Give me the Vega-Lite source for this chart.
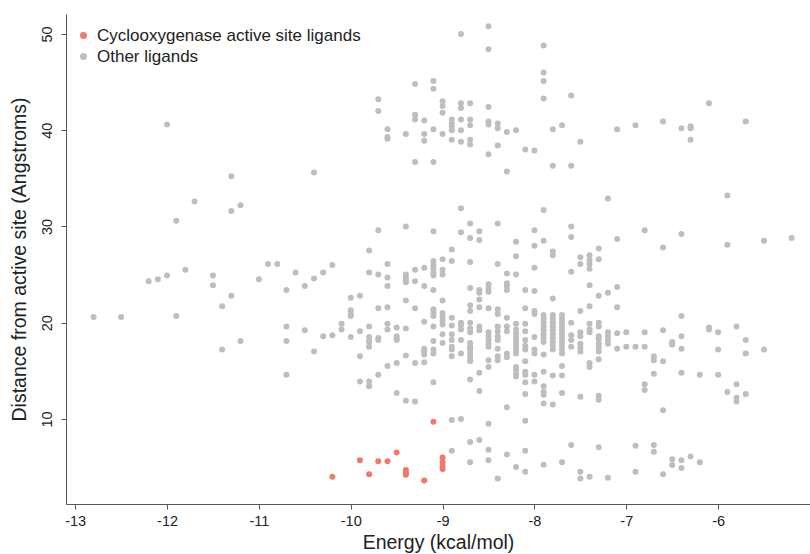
{
"$schema": "https://vega.github.io/schema/vega-lite/v6.json",
"autosize": {"type": "none"},
"padding": {"left": 66, "top": 14, "right": 0, "bottom": 50},
"width": 744,
"height": 490,
"config": {"view": {"stroke": null}, "font": "Liberation Sans"},
"datasets": {
"other": [
{"e":-12.8,"d":20.6},{"e":-12.5,"d":20.6},{"e":-12.2,"d":24.3},{"e":-12.1,"d":24.5},{"e":-12.0,"d":40.6},{"e":-12.0,"d":24.9},
{"e":-11.9,"d":30.6},{"e":-11.9,"d":20.7},{"e":-11.8,"d":25.5},{"e":-11.7,"d":32.6},{"e":-11.5,"d":24.9},{"e":-11.5,"d":23.9},
{"e":-11.4,"d":21.7},{"e":-11.4,"d":17.2},{"e":-11.3,"d":35.2},{"e":-11.3,"d":31.6},{"e":-11.3,"d":22.8},{"e":-11.2,"d":32.2},{"e":-11.2,"d":18.1},
{"e":-11.0,"d":24.5},{"e":-10.9,"d":26.1},{"e":-10.8,"d":26.1},{"e":-10.7,"d":23.4},{"e":-10.7,"d":19.6},{"e":-10.7,"d":18.1},{"e":-10.7,"d":14.6},
{"e":-10.6,"d":25.2},{"e":-10.5,"d":23.8},{"e":-10.5,"d":19.2},{"e":-10.4,"d":35.6},{"e":-10.4,"d":24.6},{"e":-10.4,"d":17.0},
{"e":-10.3,"d":25.2},{"e":-10.3,"d":18.6},{"e":-10.2,"d":26.0},{"e":-10.2,"d":18.7},{"e":-10.1,"d":19.9},{"e":-10.1,"d":19.3},
{"e":-10.0,"d":22.6},{"e":-10.0,"d":21.3},{"e":-10.0,"d":20.9},{"e":-10.0,"d":20.7},{"e":-10.0,"d":18.5},
{"e":-9.9,"d":22.8},{"e":-9.9,"d":19.1},{"e":-9.9,"d":16.5},{"e":-9.9,"d":13.9},
{"e":-9.8,"d":27.5},{"e":-9.8,"d":25.2},{"e":-9.8,"d":19.6},{"e":-9.8,"d":18.5},{"e":-9.8,"d":18.1},{"e":-9.8,"d":18.0},{"e":-9.8,"d":17.5},{"e":-9.8,"d":13.9},{"e":-9.8,"d":13.4},
{"e":-9.7,"d":43.2},{"e":-9.7,"d":42.0},{"e":-9.7,"d":29.6},{"e":-9.7,"d":25.0},{"e":-9.7,"d":21.5},{"e":-9.7,"d":18.4},{"e":-9.7,"d":18.2},{"e":-9.7,"d":14.6},
{"e":-9.6,"d":40.1},{"e":-9.6,"d":39.3},{"e":-9.6,"d":39.1},{"e":-9.6,"d":26.1},{"e":-9.6,"d":24.7},{"e":-9.6,"d":23.8},{"e":-9.6,"d":21.6},{"e":-9.6,"d":19.9},{"e":-9.6,"d":19.3},{"e":-9.6,"d":15.5},
{"e":-9.5,"d":19.5},{"e":-9.5,"d":18.6},{"e":-9.5,"d":18.3},{"e":-9.5,"d":18.2},{"e":-9.5,"d":15.8},{"e":-9.5,"d":12.7},
{"e":-9.4,"d":39.6},{"e":-9.4,"d":30.0},{"e":-9.4,"d":25.0},{"e":-9.4,"d":24.7},{"e":-9.4,"d":24.4},{"e":-9.4,"d":24.2},{"e":-9.4,"d":22.3},{"e":-9.4,"d":19.4},{"e":-9.4,"d":16.6},{"e":-9.4,"d":11.9},
{"e":-9.3,"d":44.8},{"e":-9.3,"d":41.6},{"e":-9.3,"d":41.1},{"e":-9.3,"d":36.7},{"e":-9.3,"d":25.5},{"e":-9.3,"d":24.3},{"e":-9.3,"d":21.5},{"e":-9.3,"d":15.8},{"e":-9.3,"d":11.8},
{"e":-9.2,"d":41.0},{"e":-9.2,"d":39.6},{"e":-9.2,"d":38.9},{"e":-9.2,"d":25.7},{"e":-9.2,"d":23.8},{"e":-9.2,"d":20.1},{"e":-9.2,"d":17.3},{"e":-9.2,"d":17.0},{"e":-9.2,"d":16.7},{"e":-9.2,"d":15.9},
{"e":-9.1,"d":45.1},{"e":-9.1,"d":44.3},{"e":-9.1,"d":40.1},{"e":-9.1,"d":36.7},{"e":-9.1,"d":29.5},{"e":-9.1,"d":26.4},{"e":-9.1,"d":26.0},{"e":-9.1,"d":25.6},{"e":-9.1,"d":25.2},{"e":-9.1,"d":24.9},{"e":-9.1,"d":23.4},{"e":-9.1,"d":21.4},{"e":-9.1,"d":21.1},{"e":-9.1,"d":20.7},{"e":-9.1,"d":19.6},{"e":-9.1,"d":18.1},{"e":-9.1,"d":17.2},{"e":-9.1,"d":16.8},{"e":-9.1,"d":13.8},
{"e":-9.0,"d":43.0},{"e":-9.0,"d":42.5},{"e":-9.0,"d":41.8},{"e":-9.0,"d":39.6},{"e":-9.0,"d":26.6},{"e":-9.0,"d":25.5},{"e":-9.0,"d":25.0},{"e":-9.0,"d":22.3},{"e":-9.0,"d":21.0},{"e":-9.0,"d":20.6},{"e":-9.0,"d":20.2},{"e":-9.0,"d":19.8},{"e":-9.0,"d":18.8},{"e":-9.0,"d":17.9},
{"e":-8.9,"d":41.1},{"e":-8.9,"d":40.7},{"e":-8.9,"d":40.4},{"e":-8.9,"d":40.0},{"e":-8.9,"d":39.0},{"e":-8.9,"d":27.6},{"e":-8.9,"d":26.4},{"e":-8.9,"d":20.5},{"e":-8.9,"d":19.7},{"e":-8.9,"d":18.8},{"e":-8.9,"d":18.2},{"e":-8.9,"d":17.5},{"e":-8.9,"d":17.2},{"e":-8.9,"d":16.5},{"e":-8.9,"d":9.9},{"e":-8.9,"d":6.7},
{"e":-8.8,"d":50.0},{"e":-8.8,"d":42.8},{"e":-8.8,"d":42.3},{"e":-8.8,"d":41.1},{"e":-8.8,"d":40.0},{"e":-8.8,"d":38.8},{"e":-8.8,"d":31.9},{"e":-8.8,"d":29.4},{"e":-8.8,"d":20.0},{"e":-8.8,"d":19.7},{"e":-8.8,"d":19.3},{"e":-8.8,"d":18.2},{"e":-8.8,"d":16.8},{"e":-8.8,"d":10.0},
{"e":-8.7,"d":42.8},{"e":-8.7,"d":41.1},{"e":-8.7,"d":40.5},{"e":-8.7,"d":39.0},{"e":-8.7,"d":38.5},{"e":-8.7,"d":30.3},{"e":-8.7,"d":28.8},{"e":-8.7,"d":26.3},{"e":-8.7,"d":23.6},{"e":-8.7,"d":21.8},{"e":-8.7,"d":21.2},{"e":-8.7,"d":20.0},{"e":-8.7,"d":19.4},{"e":-8.7,"d":19.0},{"e":-8.7,"d":17.9},{"e":-8.7,"d":17.5},{"e":-8.7,"d":17.2},{"e":-8.7,"d":16.8},{"e":-8.7,"d":16.4},{"e":-8.7,"d":16.0},{"e":-8.7,"d":14.1},{"e":-8.7,"d":7.6},{"e":-8.7,"d":5.5},
{"e":-8.6,"d":29.5},{"e":-8.6,"d":28.6},{"e":-8.6,"d":23.4},{"e":-8.6,"d":23.1},{"e":-8.6,"d":22.4},{"e":-8.6,"d":21.6},{"e":-8.6,"d":19.6},{"e":-8.6,"d":19.2},{"e":-8.6,"d":14.8},{"e":-8.6,"d":12.9},{"e":-8.6,"d":7.8},
{"e":-8.5,"d":50.8},{"e":-8.5,"d":48.4},{"e":-8.5,"d":42.4},{"e":-8.5,"d":40.9},{"e":-8.5,"d":40.6},{"e":-8.5,"d":37.5},{"e":-8.5,"d":24.0},{"e":-8.5,"d":23.6},{"e":-8.5,"d":23.2},{"e":-8.5,"d":21.5},{"e":-8.5,"d":19.0},{"e":-8.5,"d":18.6},{"e":-8.5,"d":18.2},{"e":-8.5,"d":17.8},{"e":-8.5,"d":17.5},{"e":-8.5,"d":16.1},{"e":-8.5,"d":15.4},{"e":-8.5,"d":9.5},{"e":-8.5,"d":6.8},{"e":-8.5,"d":5.7},
{"e":-8.4,"d":40.7},{"e":-8.4,"d":40.2},{"e":-8.4,"d":38.4},{"e":-8.4,"d":30.3},{"e":-8.4,"d":26.1},{"e":-8.4,"d":21.4},{"e":-8.4,"d":20.9},{"e":-8.4,"d":19.6},{"e":-8.4,"d":19.1},{"e":-8.4,"d":18.6},{"e":-8.4,"d":18.2},{"e":-8.4,"d":17.3},{"e":-8.4,"d":16.5},{"e":-8.4,"d":16.1},{"e":-8.4,"d":3.8},
{"e":-8.3,"d":39.8},{"e":-8.3,"d":35.7},{"e":-8.3,"d":25.1},{"e":-8.3,"d":24.1},{"e":-8.3,"d":23.8},{"e":-8.3,"d":23.4},{"e":-8.3,"d":20.5},{"e":-8.3,"d":19.6},{"e":-8.3,"d":19.1},{"e":-8.3,"d":16.8},{"e":-8.3,"d":16.4},{"e":-8.3,"d":11.2},{"e":-8.3,"d":6.3},
{"e":-8.2,"d":40.0},{"e":-8.2,"d":28.4},{"e":-8.2,"d":26.9},{"e":-8.2,"d":25.0},{"e":-8.2,"d":19.9},{"e":-8.2,"d":19.3},{"e":-8.2,"d":18.9},{"e":-8.2,"d":18.5},{"e":-8.2,"d":18.2},{"e":-8.2,"d":17.8},{"e":-8.2,"d":17.5},{"e":-8.2,"d":17.1},{"e":-8.2,"d":16.8},{"e":-8.2,"d":15.4},{"e":-8.2,"d":15.1},{"e":-8.2,"d":14.7},{"e":-8.2,"d":14.4},{"e":-8.2,"d":5.0},
{"e":-8.1,"d":38.0},{"e":-8.1,"d":23.4},{"e":-8.1,"d":21.5},{"e":-8.1,"d":19.9},{"e":-8.1,"d":19.1},{"e":-8.1,"d":18.2},{"e":-8.1,"d":17.6},{"e":-8.1,"d":17.2},{"e":-8.1,"d":16.0},{"e":-8.1,"d":14.9},{"e":-8.1,"d":14.6},{"e":-8.1,"d":13.8},{"e":-8.1,"d":12.6},{"e":-8.1,"d":9.8},{"e":-8.1,"d":6.7},{"e":-8.1,"d":4.5},
{"e":-8.0,"d":37.9},{"e":-8.0,"d":29.6},{"e":-8.0,"d":28.0},{"e":-8.0,"d":25.7},{"e":-8.0,"d":23.3},{"e":-8.0,"d":21.2},{"e":-8.0,"d":20.9},{"e":-8.0,"d":18.5},{"e":-8.0,"d":17.2},{"e":-8.0,"d":16.8},{"e":-8.0,"d":14.6},{"e":-8.0,"d":13.9},
{"e":-7.9,"d":48.8},{"e":-7.9,"d":46.0},{"e":-7.9,"d":45.1},{"e":-7.9,"d":43.3},{"e":-7.9,"d":31.7},{"e":-7.9,"d":28.5},{"e":-7.9,"d":20.8},{"e":-7.9,"d":20.4},{"e":-7.9,"d":20.0},{"e":-7.9,"d":19.6},{"e":-7.9,"d":19.2},{"e":-7.9,"d":18.8},{"e":-7.9,"d":18.4},{"e":-7.9,"d":18.0},{"e":-7.9,"d":16.7},{"e":-7.9,"d":14.9},{"e":-7.9,"d":13.4},{"e":-7.9,"d":12.8},{"e":-7.9,"d":12.5},{"e":-7.9,"d":11.6},{"e":-7.9,"d":5.25},
{"e":-7.8,"d":40.1},{"e":-7.8,"d":36.3},{"e":-7.8,"d":27.4},{"e":-7.8,"d":27.0},{"e":-7.8,"d":22.5},{"e":-7.8,"d":20.8},{"e":-7.8,"d":20.4},{"e":-7.8,"d":20.0},{"e":-7.8,"d":19.6},{"e":-7.8,"d":19.2},{"e":-7.8,"d":18.8},{"e":-7.8,"d":18.4},{"e":-7.8,"d":18.0},{"e":-7.8,"d":17.6},{"e":-7.8,"d":17.2},{"e":-7.8,"d":14.5},{"e":-7.8,"d":11.5},
{"e":-7.7,"d":40.5},{"e":-7.7,"d":20.8},{"e":-7.7,"d":20.4},{"e":-7.7,"d":20.0},{"e":-7.7,"d":19.6},{"e":-7.7,"d":19.2},{"e":-7.7,"d":18.8},{"e":-7.7,"d":18.4},{"e":-7.7,"d":18.0},{"e":-7.7,"d":17.6},{"e":-7.7,"d":17.2},{"e":-7.7,"d":16.8},{"e":-7.7,"d":15.5},{"e":-7.7,"d":14.5},{"e":-7.7,"d":12.7},{"e":-7.7,"d":5.5},
{"e":-7.6,"d":43.6},{"e":-7.6,"d":36.3},{"e":-7.6,"d":30.0},{"e":-7.6,"d":28.9},{"e":-7.6,"d":25.3},{"e":-7.6,"d":20.0},{"e":-7.6,"d":18.7},{"e":-7.6,"d":18.2},{"e":-7.6,"d":17.5},{"e":-7.6,"d":7.3},
{"e":-7.5,"d":38.8},{"e":-7.5,"d":26.8},{"e":-7.5,"d":26.1},{"e":-7.5,"d":21.2},{"e":-7.5,"d":19.0},{"e":-7.5,"d":18.6},{"e":-7.5,"d":17.8},{"e":-7.5,"d":17.4},{"e":-7.5,"d":17.0},{"e":-7.5,"d":12.3},{"e":-7.5,"d":4.5},{"e":-7.5,"d":3.8},
{"e":-7.4,"d":27.0},{"e":-7.4,"d":26.5},{"e":-7.4,"d":26.1},{"e":-7.4,"d":25.6},{"e":-7.4,"d":23.9},{"e":-7.4,"d":21.7},{"e":-7.4,"d":19.9},{"e":-7.4,"d":19.3},{"e":-7.4,"d":19.0},{"e":-7.4,"d":15.8},{"e":-7.4,"d":15.4},{"e":-7.4,"d":4.0},
{"e":-7.3,"d":27.7},{"e":-7.3,"d":26.6},{"e":-7.3,"d":22.8},{"e":-7.3,"d":20.0},{"e":-7.3,"d":19.6},{"e":-7.3,"d":18.6},{"e":-7.3,"d":18.3},{"e":-7.3,"d":17.8},{"e":-7.3,"d":17.4},{"e":-7.3,"d":17.0},{"e":-7.3,"d":16.2},{"e":-7.3,"d":12.4},{"e":-7.3,"d":12.0},{"e":-7.3,"d":7.05},
{"e":-7.2,"d":32.9},{"e":-7.2,"d":23.1},{"e":-7.2,"d":19.0},{"e":-7.2,"d":18.6},{"e":-7.2,"d":18.2},{"e":-7.2,"d":17.8},{"e":-7.2,"d":3.9},
{"e":-7.1,"d":40.1},{"e":-7.1,"d":28.7},{"e":-7.1,"d":23.7},{"e":-7.1,"d":21.6},{"e":-7.1,"d":18.9},{"e":-7.1,"d":17.3},
{"e":-7.0,"d":19.0},{"e":-7.0,"d":17.5},
{"e":-6.9,"d":40.5},{"e":-6.9,"d":17.5},{"e":-6.9,"d":7.2},{"e":-6.9,"d":4.5},
{"e":-6.8,"d":29.6},{"e":-6.8,"d":19.0},{"e":-6.8,"d":17.5},{"e":-6.8,"d":13.6},{"e":-6.8,"d":13.0},
{"e":-6.7,"d":16.5},{"e":-6.7,"d":16.1},{"e":-6.7,"d":14.7},{"e":-6.7,"d":7.3},{"e":-6.7,"d":6.6},
{"e":-6.6,"d":40.9},{"e":-6.6,"d":27.8},{"e":-6.6,"d":19.2},{"e":-6.6,"d":16.0},{"e":-6.6,"d":10.9},{"e":-6.6,"d":4.25},
{"e":-6.5,"d":18.0},{"e":-6.5,"d":17.9},{"e":-6.5,"d":17.7},{"e":-6.5,"d":5.8},{"e":-6.5,"d":5.2},
{"e":-6.4,"d":40.2},{"e":-6.4,"d":29.2},{"e":-6.4,"d":20.7},{"e":-6.4,"d":18.6},{"e":-6.4,"d":17.3},{"e":-6.4,"d":14.8},{"e":-6.4,"d":5.7},{"e":-6.4,"d":4.9},
{"e":-6.3,"d":40.4},{"e":-6.3,"d":40.2},{"e":-6.3,"d":39.0},{"e":-6.3,"d":6.1},
{"e":-6.2,"d":14.6},{"e":-6.2,"d":5.5},
{"e":-6.1,"d":42.8},{"e":-6.1,"d":19.5},{"e":-6.1,"d":19.3},
{"e":-6.0,"d":19.0},{"e":-6.0,"d":17.2},{"e":-6.0,"d":14.6},
{"e":-5.9,"d":33.2},{"e":-5.9,"d":28.1},{"e":-5.9,"d":12.8},
{"e":-5.8,"d":19.6},{"e":-5.8,"d":13.6},{"e":-5.8,"d":12.2},{"e":-5.8,"d":11.8},
{"e":-5.7,"d":40.9},{"e":-5.7,"d":18.2},{"e":-5.7,"d":16.8},{"e":-5.7,"d":12.6},
{"e":-5.5,"d":28.5},{"e":-5.5,"d":17.2},
{"e":-5.2,"d":28.8}
],
"cox": [
{"e":-10.2,"d":4.0},{"e":-9.9,"d":5.7},{"e":-9.8,"d":4.25},{"e":-9.7,"d":5.6},{"e":-9.6,"d":5.6},{"e":-9.5,"d":6.5},
{"e":-9.4,"d":4.7},{"e":-9.4,"d":4.4},{"e":-9.4,"d":4.2},{"e":-9.2,"d":3.6},{"e":-9.1,"d":9.7},
{"e":-9.0,"d":6.0},{"e":-9.0,"d":5.5},{"e":-9.0,"d":5.1},{"e":-9.0,"d":4.8}
]
},
"layer": [
{
"data": {"name": "other"},
"mark": {"type": "point", "filled": true, "opacity": 1, "size": 36, "shape": "circle", "strokeWidth": 0},
"encoding": {
"x": {"field": "e", "type": "quantitative",
"scale": {"domain": [-13.1, -5.0], "nice": false, "zero": false},
"axis": {"title": "Energy (kcal/mol)", "values": [-13, -12, -11, -10, -9, -8, -7, -6], "labelExpr": "'' + datum.value",
"grid": false, "domainColor": "#555", "tickColor": "#555", "tickSize": 5, "labelFontSize": 14.5, "labelColor": "#222",
"labelPadding": 5, "titleFontSize": 19.5, "titleFontWeight": "normal", "titleColor": "#222", "titlePadding": 6}},
"y": {"field": "d", "type": "quantitative",
"scale": {"domain": [1.16, 52.07], "nice": false, "zero": false},
"axis": {"title": "Distance from active site (Angstroms)", "values": [10, 20, 30, 40, 50],
"grid": false, "domainColor": "#555", "tickColor": "#555", "tickSize": 5, "labelFontSize": 14.5, "labelColor": "#222",
"labelAngle": 270, "labelAlign": "center", "labelBaseline": "bottom", "labelPadding": 7,
"titleFontSize": 19.5, "titleFontWeight": "normal", "titleColor": "#222", "titlePadding": 10}},
"color": {"datum": "Other ligands",
"scale": {"domain": ["Cyclooxygenase active site ligands", "Other ligands"], "range": ["#F07A6A", "#BEBEBE"]},
"legend": {"orient": "none", "legendX": 9, "legendY": 13, "title": null, "symbolType": "circle", "symbolSize": 49,
"labelFontSize": 17, "labelLimit": 0, "labelColor": "#222", "labelOffset": 5, "rowPadding": 3, "padding": 0, "symbolStrokeWidth": 0}}
}
},
{
"data": {"name": "cox"},
"mark": {"type": "point", "filled": true, "opacity": 1, "size": 36, "shape": "circle", "strokeWidth": 0},
"encoding": {
"x": {"field": "e", "type": "quantitative"},
"y": {"field": "d", "type": "quantitative"},
"color": {"datum": "Cyclooxygenase active site ligands"}
}
},
{
"mark": {"type": "rule", "color": "#555", "strokeWidth": 1},
"encoding": {"y": {"datum": 52.07}}
}
]
}
